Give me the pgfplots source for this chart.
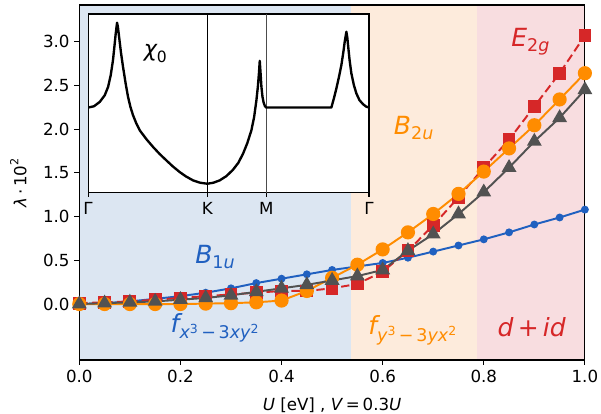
\documentclass[border=0pt]{standalone}
\usepackage{pgfplots}
\pgfplotsset{compat=1.18}
\usepackage{pgfplotstable}
\usepackage{amsmath}
\usepackage{fontspec}
\setmainfont{DejaVu Sans}

\definecolor{cblue}{RGB}{32,96,192}
\definecolor{corange}{RGB}{255,140,0}
\definecolor{cred}{RGB}{214,39,40}
\definecolor{cgray}{RGB}{82,82,82}
\definecolor{bgblue}{RGB}{220,230,242}
\definecolor{bgorange}{RGB}{253,235,220}
\definecolor{bgred}{RGB}{248,221,224}

% lambda * 10^2 against U
\pgfplotstableread{
U    b1u   b2u    e2g   gr
0.00 0.00  0.00   0.01  0.00
0.05 0.01  0.00   0.02  0.01
0.10 0.03  0.00   0.03  0.02
0.15 0.06  0.00   0.05  0.03
0.20 0.09  0.00   0.07  0.05
0.25 0.13  0.005  0.09  0.07
0.30 0.18  0.01   0.11  0.10
0.35 0.24  0.02   0.13  0.14
0.40 0.29  0.04   0.15  0.18
0.45 0.34  0.15   0.15  0.22
0.50 0.39  0.30   0.18  0.27
0.55 0.43  0.45   0.23  0.32
0.60 0.47  0.625  0.37  0.39
0.65 0.53  0.82   0.61  0.61
0.70 0.60  1.03   0.90  0.80
0.75 0.67  1.26   1.22  1.03
0.80 0.74  1.515  1.56  1.28
0.85 0.82  1.78   1.88  1.56
0.90 0.91  2.045  2.26  1.86
0.95 0.99  2.34   2.64  2.13
1.00 1.08  2.64   3.07  2.45
}\lamtab

\begin{document}
\begin{tikzpicture}
\path[use as bounding box] (-57.1pt,-38.2pt) rectangle (375.6pt,259.2pt);
\begin{axis}[
    name=main,
    at={(0,0)}, anchor=south west,
    scale only axis, width=364pt, height=255.6pt,
    xmin=0, xmax=1, ymin=-0.64, ymax=3.42,
    xtick={0,0.2,...,1.0}, ytick={0,0.5,...,3.0},
    tick align=outside, xtick pos=bottom, ytick pos=left,
    major tick length=3.5pt,
    tick style={black, line width=0.8pt},
    axis line style={line width=0.8pt},
    ticklabel style={font=\fontsize{12}{14}\selectfont},
    /pgf/number format/.cd, fixed, fixed zerofill, precision=1, assume math mode=true,
    /pgfplots/.cd,
    xlabel={\textit{U} [eV] , \textit{V}\,=\,0.3\textit{U}},
    ylabel={$\textit{λ}\,\text{·}\,\text{10}^{\text{2}}$},
    label style={font=\fontsize{12}{14}\selectfont},
    xlabel style={yshift=-4pt},
    ylabel style={yshift=5pt},
    axis on top,
]
\addplot[draw=none, fill=bgblue] coordinates {(0,-1) (0.538,-1) (0.538,4) (0,4)};
\addplot[draw=none, fill=bgorange] coordinates {(0.538,-1) (0.787,-1) (0.787,4) (0.538,4)};
\addplot[draw=none, fill=bgred] coordinates {(0.787,-1) (1.1,-1) (1.1,4) (0.787,4)};

\addplot[cblue, line width=1.4pt, mark=*, mark size=2.1pt, mark options={fill=cblue}] table[x=U, y=b1u] {\lamtab};
\addplot[cred, line width=1.4pt, dash pattern=on 6pt off 3pt, mark=square*, mark size=3.9pt, mark options={solid, fill=cred}] table[x=U, y=e2g] {\lamtab};
\addplot[corange, line width=1.4pt, mark=*, mark size=4.4pt, mark options={fill=corange}] table[x=U, y=b2u] {\lamtab};
\addplot[cgray, line width=1.4pt, mark=triangle*, mark size=4.8pt, mark options={fill=cgray}] table[x=U, y=gr] {\lamtab};

\node[cblue, font=\fontsize{18}{21}\selectfont] at (axis cs:0.269,0.54) {$\textit{B}_{\text{1}\textit{u}}$};
\node[cblue, font=\fontsize{18}{21}\selectfont] at (axis cs:0.269,-0.27) {$\textit{f}_{\textit{x}^{\text{3}}\,\text{−}\,\text{3}\textit{xy}^{\text{2}}}$};
\node[corange, font=\fontsize{18}{21}\selectfont] at (axis cs:0.662,2.01) {$\textit{B}_{\text{2}\textit{u}}$};
\node[corange, font=\fontsize{18}{21}\selectfont] at (axis cs:0.66,-0.30) {$\textit{f}_{\textit{y}^{\text{3}}\,\text{−}\,\text{3}\textit{yx}^{\text{2}}}$};
\node[cred, font=\fontsize{18}{21}\selectfont] at (axis cs:0.893,3.0) {$\textit{E}_{\text{2}\textit{g}}$};
\node[cred, font=\fontsize{18}{21}\selectfont] at (axis cs:0.895,-0.27) {\textit{d}\,+\,\textit{id}};
\end{axis}

\begin{axis}[
    at={(6.3pt,249.1pt)}, anchor=north west,
    scale only axis, width=202.3pt, height=128.2pt,
    xmin=0, xmax=2.355, ymin=0.25, ymax=5.58,
    xtick={0,1,1.494,2.355}, xticklabels={Γ,K,M,Γ},
    ytick=\empty,
    tick align=outside, xtick pos=bottom,
    major tick length=3.5pt,
    tick style={black, line width=0.8pt},
    axis line style={line width=0.8pt},
    ticklabel style={font=\fontsize{12}{14}\selectfont},
    axis background/.style={fill=white},
]
\addplot[black, line width=0.6pt] coordinates {(1,0) (1,6)};
\addplot[black!70, line width=0.6pt] coordinates {(1.494,0) (1.494,6)};
\addplot[black, line width=1.7pt, line join=round] coordinates {
(0,2.78) (0.05,2.82) (0.098,2.95) (0.14,3.15) (0.168,3.40) (0.19,3.75) (0.209,4.20) (0.225,4.75) (0.232,5.00) (0.243,5.32)
(0.250,5.20) (0.260,4.90) (0.275,4.45) (0.293,4.00) (0.315,3.50) (0.335,3.10) (0.355,2.80) (0.377,2.55) (0.405,2.30) (0.433,2.10)
(0.49,1.83) (0.545,1.60) (0.60,1.39) (0.656,1.20) (0.71,1.02) (0.768,0.85) (0.82,0.72) (0.880,0.60) (0.94,0.53) (1.0,0.50)
(1.05,0.53) (1.103,0.60) (1.16,0.73) (1.215,0.92) (1.26,1.13) (1.299,1.40) (1.335,1.72) (1.369,2.10) (1.392,2.50) (1.411,3.00)
(1.423,3.40) (1.432,3.80) (1.439,4.18) (1.446,3.80) (1.453,3.40) (1.462,3.10) (1.472,2.92) (1.483,2.82) (1.494,2.78)
(2.039,2.78) (2.060,3.05) (2.081,3.35) (2.103,3.70) (2.123,4.05) (2.140,4.45) (2.151,4.75) (2.165,5.05)
(2.172,4.90) (2.179,4.65) (2.192,4.20) (2.207,3.80) (2.228,3.45) (2.249,3.20) (2.275,3.00) (2.305,2.88) (2.330,2.81) (2.355,2.78)
};
\node[font=\fontsize{16}{19}\selectfont] at (axis cs:0.567,4.4) {$\textit{χ}_{\text{0}}$};
\end{axis}
\end{tikzpicture}
\end{document}
